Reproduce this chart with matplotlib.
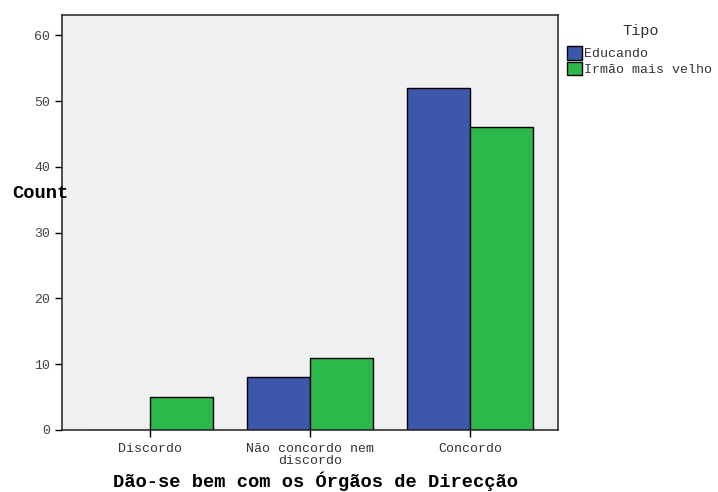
import matplotlib
matplotlib.use("Agg")
import matplotlib.pyplot as plt
import numpy as np

categories = ["Discordo", "Não concordo nem\ndiscordo", "Concordo"]
series_names = ["Educando", "Irmão mais velho"]
educando = [0, 8, 52]
irmao = [5, 11, 46]
colors = ["#3d57ab", "#2db84b"]

plt.rcParams['font.family'] = ['Liberation Mono', 'DejaVu Sans Mono']

fig = plt.figure(figsize=(7.18, 4.92), dpi=100)
ax = fig.add_axes([62/718, 62/492, 496/718, 415/492])
ax.set_facecolor("#f0f0f0")

x = np.arange(len(categories))
w = 0.395
ax.bar(x - w/2, educando, w, color=colors[0], edgecolor="black", linewidth=1, label=series_names[0])
ax.bar(x + w/2, irmao, w, color=colors[1], edgecolor="black", linewidth=1, label=series_names[1])

ax.set_xlim(-0.55, 2.55)
ax.set_ylim(0, 63.1)
ax.set_yticks(range(0, 61, 10))
ax.set_xticks(x)
ax.set_xticklabels(categories, fontsize=9.5, color="#333333", linespacing=1.0)
ax.tick_params(axis='y', labelsize=9.5, labelcolor="#444444", length=5, width=1, direction='out')
ax.tick_params(axis='x', length=5, width=1, direction='out', pad=4)
for s in ax.spines.values():
    s.set_linewidth(1.1)
    s.set_color("#222222")

fig.text(315.5/718, 1 - 481/492, "Dão-se bem com os Órgãos de Direcção", fontsize=13.5,
         fontweight='bold', ha='center', va='center')
fig.text(12/718, 1 - 193/492, "Count", fontsize=13.5, fontweight='bold', ha='left', va='center')

fig.text(641/718, 1 - 31/492, "Tipo", fontsize=11, color="#333333", ha='center', va='center')
leg = fig.legend(loc='upper left', bbox_to_anchor=(567/718, 1 - 46/492), bbox_transform=fig.transFigure,
                 frameon=False, fontsize=9.5, handlelength=1.1, handleheight=1.2,
                 handletextpad=0.2, labelspacing=0.1, borderaxespad=0, borderpad=0)
for p in leg.get_patches():
    p.set_edgecolor("black")
for t in leg.get_texts():
    t.set_color("#333333")

fig.savefig("out.png", dpi=100)
